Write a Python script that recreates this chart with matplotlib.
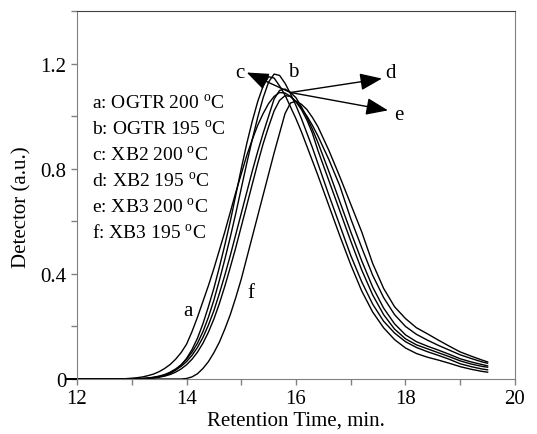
import matplotlib
matplotlib.use("Agg")
import matplotlib.pyplot as plt
from matplotlib.ticker import MultipleLocator

plt.rcParams["font.family"] = ["Liberation Serif", "DejaVu Serif"]
plt.rcParams["mathtext.fontset"] = "custom"
plt.rcParams["mathtext.rm"] = "Liberation Serif"
plt.rcParams["font.size"] = 15

# retention time grid (min)
time = [11.8, 12.0, 12.5, 12.8,
        13.0, 13.1, 13.2, 13.3, 13.4, 13.5, 13.6, 13.7, 13.8, 13.9,
        14.0, 14.1, 14.2, 14.3, 14.4, 14.5, 14.6, 14.7, 14.8, 14.9,
        15.0, 15.1, 15.2, 15.3, 15.4, 15.5, 15.6, 15.7, 15.8, 15.9,
        16.0, 16.1, 16.2, 16.3, 16.4, 16.6, 16.8, 17.0, 17.2, 17.4,
        17.6, 17.8, 18.0, 18.2, 18.4, 18.6, 18.8, 19.0, 19.2, 19.4, 19.5]

a_ogtr200 = [0, 0, 0, 0,
             0.003, 0.005, 0.008, 0.013, 0.019, 0.028, 0.040, 0.055, 0.075, 0.100,
             0.132, 0.18, 0.235, 0.295, 0.355, 0.42, 0.49, 0.56, 0.635, 0.71,
             0.78, 0.85, 0.91, 0.965, 1.01, 1.048, 1.075, 1.09, 1.088, 1.075,
             1.055, 1.03, 1.0, 0.965, 0.925, 0.835, 0.735, 0.61, 0.50, 0.395,
             0.31, 0.245, 0.2, 0.17, 0.148, 0.128, 0.11, 0.092, 0.078, 0.065, 0.06]

b_ogtr195 = [0, 0, 0, 0,
             0, 0.001, 0.002, 0.004, 0.007, 0.011, 0.017, 0.026, 0.038, 0.054,
             0.075, 0.102, 0.136, 0.18, 0.235, 0.30, 0.375, 0.455, 0.54, 0.63,
             0.725, 0.82, 0.91, 0.995, 1.07, 1.13, 1.16, 1.155, 1.125, 1.085,
             1.04, 0.99, 0.935, 0.88, 0.82, 0.70, 0.585, 0.47, 0.37, 0.285,
             0.22, 0.175, 0.142, 0.12, 0.104, 0.09, 0.075, 0.058, 0.047, 0.038, 0.035]

c_xb2_200 = [0, 0, 0, 0,
             0, 0, 0.001, 0.003, 0.005, 0.008, 0.013, 0.021, 0.034, 0.052,
             0.078, 0.112, 0.155, 0.21, 0.275, 0.345, 0.425, 0.51, 0.60, 0.70,
             0.80, 0.895, 0.98, 1.055, 1.115, 1.15, 1.145, 1.115, 1.08, 1.035,
             0.99, 0.94, 0.885, 0.83, 0.775, 0.66, 0.545, 0.435, 0.335, 0.255,
             0.195, 0.15, 0.118, 0.097, 0.083, 0.072, 0.06, 0.047, 0.037, 0.029, 0.026]

d_xb2_195 = [0, 0, 0, 0,
             0, 0.001, 0.002, 0.003, 0.006, 0.01, 0.015, 0.023, 0.034, 0.048,
             0.066, 0.09, 0.12, 0.158, 0.205, 0.26, 0.325, 0.395, 0.47, 0.55,
             0.63, 0.71, 0.79, 0.865, 0.935, 1.0, 1.065, 1.098, 1.103, 1.09,
             1.07, 1.035, 0.995, 0.95, 0.90, 0.79, 0.675, 0.56, 0.45, 0.35,
             0.27, 0.21, 0.168, 0.142, 0.125, 0.11, 0.094, 0.077, 0.065, 0.055, 0.05]

e_xb3_200 = [0, 0, 0, 0,
             0, 0, 0.001, 0.002, 0.004, 0.007, 0.011, 0.017, 0.026, 0.038,
             0.054, 0.075, 0.102, 0.136, 0.178, 0.228, 0.287, 0.353, 0.425, 0.50,
             0.58, 0.66, 0.74, 0.82, 0.895, 0.96, 1.02, 1.06, 1.078, 1.075,
             1.055, 1.025, 0.985, 0.935, 0.87, 0.755, 0.64, 0.525, 0.415, 0.32,
             0.245, 0.19, 0.153, 0.13, 0.115, 0.1, 0.085, 0.069, 0.057, 0.048, 0.045]

f_xb3_195 = [0, 0, 0, 0,
             0, 0, 0, 0, 0, 0, 0, 0, 0, 0,
             0.002, 0.008, 0.02, 0.04, 0.066, 0.10, 0.14, 0.19, 0.245, 0.31,
             0.38, 0.46, 0.54, 0.62, 0.70, 0.78, 0.86, 0.935, 1.01, 1.05,
             1.057, 1.045, 1.025, 0.995, 0.96, 0.87, 0.77, 0.665, 0.56, 0.44,
             0.345, 0.275, 0.23, 0.195, 0.172, 0.148, 0.125, 0.103, 0.087, 0.072, 0.065]

legend_lines = [r"a: OGTR 200 $^{\mathrm{o}}$C", r"b: OGTR 195 $^{\mathrm{o}}$C",
                r"c: XB2 200 $^{\mathrm{o}}$C", r"d: XB2 195 $^{\mathrm{o}}$C",
                r"e: XB3 200 $^{\mathrm{o}}$C", r"f: XB3 195 $^{\mathrm{o}}$C"]

fig = plt.figure(figsize=(5.37, 4.35), dpi=100)
ax = fig.add_axes([0.1434, 0.1264, 0.8156, 0.846])

for ys in [a_ogtr200, b_ogtr195, c_xb2_200, d_xb2_195, e_xb3_200, f_xb3_195]:
    ax.plot(time, ys, color="black", lw=1.0, clip_on=False)

ax.set_xlim(12, 20)
ax.set_ylim(0, 1.4)
ax.xaxis.set_major_locator(MultipleLocator(2))
ax.xaxis.set_minor_locator(MultipleLocator(1))
ax.set_yticks([0, 0.4, 0.8, 1.2])
ax.set_yticklabels(["0", "0.4", "0.8", "1.2"])
ax.yaxis.set_minor_locator(MultipleLocator(0.2))
ax.tick_params(which="both", direction="out", color="#808080", length=4, width=1)
ax.tick_params(axis="x", pad=3)
for s in ["left", "bottom", "right"]:
    ax.spines[s].set_color("#808080")
ax.spines["top"].set_color("#404040")

ax.set_xlabel("Retention Time, min.", labelpad=2)
ax.set_ylabel("Detector (a.u.)")
ax.yaxis.set_label_coords(-0.105, 0.47)

# legend text block
for i, t in enumerate(legend_lines):
    ax.text(12.27, 1.052 - i * 0.0987, t, ha="left", va="center", fontsize=14)

# curve labels
ax.text(14.03, 0.26, "a", ha="center", va="center")
ax.text(15.17, 0.33, "f", ha="center", va="center")
ax.text(14.98, 1.166, "c", ha="center", va="center")
ax.text(15.95, 1.17, "b", ha="center", va="center")
ax.text(17.72, 1.165, "d", ha="center", va="center")
ax.text(17.88, 1.006, "e", ha="center", va="center")

origin = (15.9, 1.09)
arrow = dict(arrowstyle="-|>,head_length=0.9,head_width=0.35", color="black",
             lw=1.0, shrinkA=0, shrinkB=0)
ax.annotate("", xy=(15.1, 1.166), xytext=origin, arrowprops=arrow)
ax.annotate("", xy=(17.57, 1.143), xytext=origin, arrowprops=arrow)
ax.annotate("", xy=(17.68, 1.022), xytext=origin, arrowprops=arrow)

fig.savefig("out.png", dpi=100)
